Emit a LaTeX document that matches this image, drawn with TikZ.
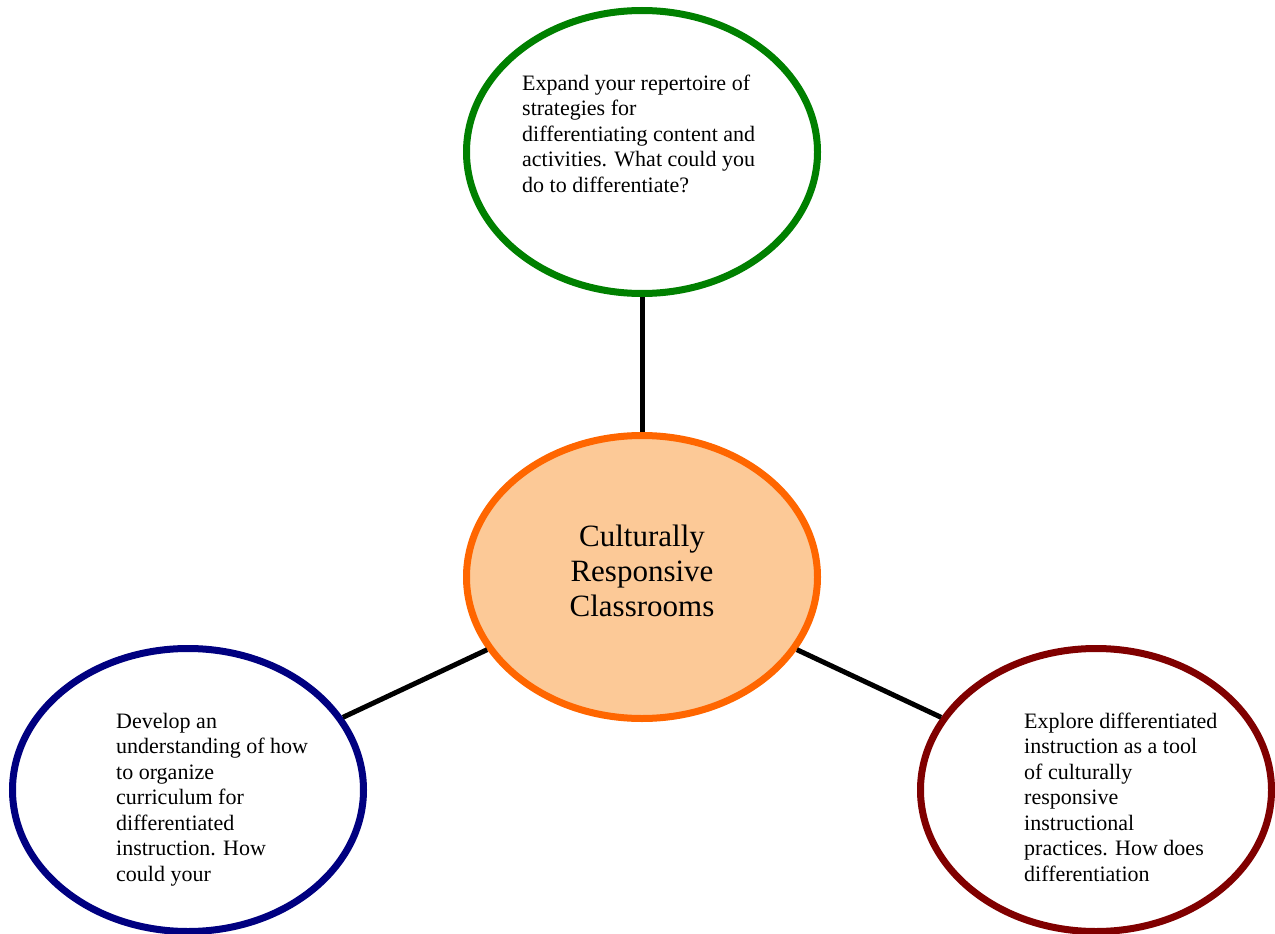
\documentclass[tikz,border=0pt]{standalone}
\usepackage{fontspec}
\setmainfont{Liberation Serif}
\usetikzlibrary{shapes.geometric}
\definecolor{cgreen}{HTML}{008000}
\definecolor{corange}{HTML}{FF6600}
\definecolor{cfill}{HTML}{FCC997}
\definecolor{cnavy}{HTML}{000080}
\definecolor{cmaroon}{HTML}{800000}
\tikzset{
  bubble/.style={ellipse, draw, line width=7pt, minimum width=351pt, minimum height=283pt, inner sep=0pt, fill=white},
  link/.style={line width=5pt, black},
  smalltext/.style={anchor=base west, align=left, inner sep=0pt, font=\fontsize{22}{25.5}\selectfont},
  bigtext/.style={anchor=base, align=center, inner sep=0pt, font=\fontsize{31}{35}\selectfont}
}
\begin{document}
\begin{tikzpicture}[x=1pt,y=-1pt]
\useasboundingbox (0,0) rectangle (1275,934);
\node[bubble, draw=cgreen] (top) at (642,152) {};
\node[bubble, draw=corange, fill=cfill] (mid) at (642,577) {};
\node[bubble, draw=cnavy] (left) at (188,790) {};
\node[bubble, draw=cmaroon] (right) at (1096,790) {};
\draw[link] (mid) -- (top);
\draw[link] (mid) -- (left);
\draw[link] (mid) -- (right);
\node[smalltext] (ttop) at (522,192) {Expand your repertoire of\\strategies for\\differentiating content and\\activities. What could you\\do to differentiate?};
\node[smalltext] (tleft) at (116,881) {Develop an\\understanding of how\\to organize\\curriculum for\\differentiated\\instruction. How\\could your};
\node[smalltext] (tright) at (1024,881) {Explore differentiated\\instruction as a tool\\of culturally\\responsive\\instructional\\practices. How does\\differentiation};
\node[bigtext] (tmid) at (642,616) {Culturally\\Responsive\\Classrooms};
\end{tikzpicture}
\end{document}
